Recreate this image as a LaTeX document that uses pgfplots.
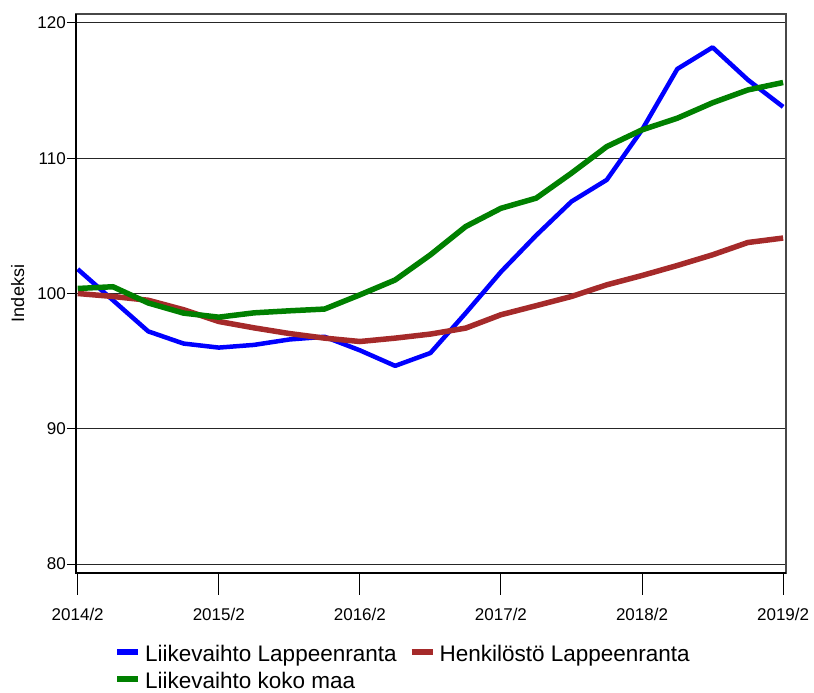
\documentclass[border=0pt]{standalone}
\usepackage{fontspec}
\setmainfont{Liberation Sans}
\usepackage{pgfplots}
\pgfplotsset{compat=1.18}
\definecolor{lpblue}{RGB}{0,0,255}
\definecolor{lpred}{RGB}{165,42,42}
\definecolor{lpgreen}{RGB}{0,128,0}

% quarters since 2014/2
\pgfplotstableread{
q  liike  henk   maa
0  101.8  100.0  100.37
1  99.5   99.78  100.5
2  97.2   99.5   99.3
3  96.3   98.8   98.55
4  96.0   97.93  98.25
5  96.2   97.46  98.57
6  96.6   97.04  98.72
7  96.8   96.7   98.85
8  95.8   96.45  99.9
9  94.65  96.7   101.0
10 95.6   97.0   102.86
11 98.55  97.44  104.95
12 101.6  98.43  106.3
13 104.3  99.1   107.05
14 106.8  99.78  108.9
15 108.4  100.64 110.86
16 112.1  101.33 112.1
17 116.6  102.07 112.96
18 118.2  102.86 114.1
19 115.8  103.77 115.05
20 113.8  104.1  115.6
}\indeksi

\begin{document}
\begin{tikzpicture}
\begin{axis}[
    at={(0pt,0pt)}, anchor=south west,
    scale only axis, width=710pt, height=559pt,
    xmin=-0.048, xmax=20.082,
    ymin=79.335, ymax=120.665,
    xtick={0,4,8,12,16,20},
    xticklabels={2014/2,2015/2,2016/2,2017/2,2018/2,2019/2},
    ytick={80,90,100,110,120},
    xtick pos=lower, ytick pos=left,
    ymajorgrids=true,
    grid style={black!85, line width=1pt},
    axis line style={black!72, line width=1.3pt},
    tick align=outside,
    major tick length=9pt,
    tick style={black, line width=1pt},
    /pgf/number format/assume math mode=true,
    tick label style={font=\fontsize{17}{20}\selectfont, black},
    yticklabel style={anchor=east, inner sep=0pt, xshift=-1pt},
    xticklabel style={anchor=north, inner sep=0pt, yshift=-25.5pt},
    ylabel={Indeksi},
    every axis y label/.style={at={(axis description cs:-0.0821,0.5)}, rotate=90, anchor=center, font=\fontsize{18}{21}\selectfont},
    legend columns=2,
    legend cell align=left,
    legend image code/.code={\draw[#1, line width=6pt, line cap=butt] (0pt,4pt) -- (21pt,4pt);},
    legend style={at={(axis description cs:0,0)}, anchor=north west, xshift=38pt, yshift=-71.5pt,
        draw=none, fill=none, inner sep=0pt, row sep=5pt,
        font=\fontsize{22.5}{27}\selectfont,
        nodes={inner sep=0pt, text height=17pt, text depth=5pt},
        /tikz/every odd column/.style={column sep=4pt},
        /tikz/every even column/.style={column sep=12pt}},
]
\addplot[color=lpblue, line width=4.5pt, line join=round] table[x=q, y=liike] {\indeksi};
\addlegendentry{Liikevaihto Lappeenranta}
\addplot[color=lpred, line width=5.5pt, line join=round] table[x=q, y=henk] {\indeksi};
\addlegendentry{Henkilöstö Lappeenranta}
\addplot[color=lpgreen, line width=5.5pt, line join=round] table[x=q, y=maa] {\indeksi};
\addlegendentry{Liikevaihto koko maa}
% corners and feet of the long x ticks
\coordinate (nw) at (rel axis cs:0,1);
\coordinate (sw) at (rel axis cs:0,0);
\coordinate (se) at (rel axis cs:1,0);
\pgfplotsinvokeforeach{0,4,8,12,16,20}{\coordinate (xt#1) at (axis cs:#1,79.335);}
\end{axis}
% left and bottom frame in black, long x ticks below it
\draw[black, line width=1.3pt] (nw) -- (sw) -- (se);
\foreach \q in {0,4,8,12,16,20}
  \draw[black, line width=1pt] (xt\q) -- ++(0pt,-22pt);
\pgfresetboundingbox
\path[use as bounding box] (-76pt,-120pt) rectangle (738pt,573pt);
\end{tikzpicture}
\end{document}
